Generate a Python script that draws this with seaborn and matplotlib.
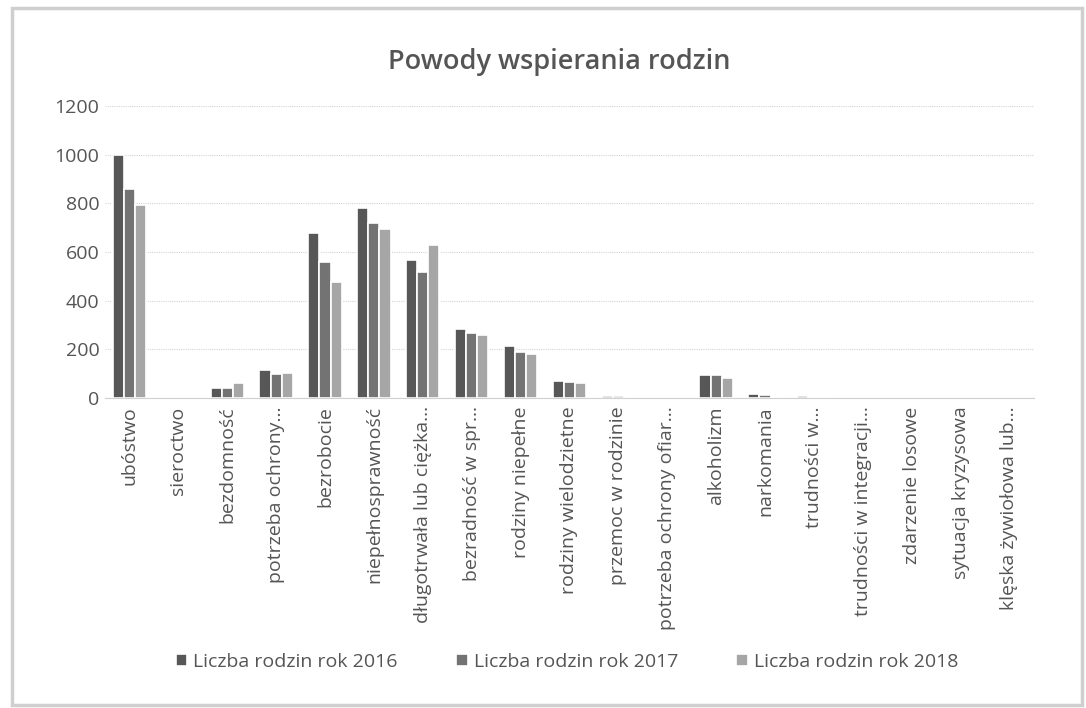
import matplotlib
matplotlib.use("Agg")
import matplotlib.pyplot as plt
from matplotlib.patches import Rectangle
import pandas as pd
import seaborn as sns

categories = [
    "ubóstwo", "sieroctwo", "bezdomność", "potrzeba ochrony...",
    "bezrobocie", "niepełnosprawność", "długotrwała lub ciężka...",
    "bezradność w spr...", "rodziny niepełne", "rodziny wielodzietne",
    "przemoc w rodzinie", "potrzeba ochrony ofiar...", "alkoholizm",
    "narkomania", "trudności w...", "trudności w integracji...",
    "zdarzenie losowe", "sytuacja kryzysowa", "klęska żywiołowa lub...",
]
years = ["Liczba rodzin rok 2016", "Liczba rodzin rok 2017", "Liczba rodzin rok 2018"]
vals_2016 = [1000, 0, 42, 113, 679, 779, 566, 285, 214, 70, 8, 1, 95, 18, 10, 0, 0, 0, 0]
vals_2017 = [858, 0, 42, 98, 557, 721, 516, 266, 190, 65, 7, 1, 95, 11, 6, 0, 0, 0, 0]
vals_2018 = [795, 0, 62, 102, 475, 694, 628, 258, 180, 62, 5, 0, 83, 4, 4, 0, 0, 0, 0]
colors = ["#575757", "#737373", "#a6a6a6"]

df = pd.DataFrame({
    "kategoria": categories * 3,
    "rok": [years[0]] * len(categories) + [years[1]] * len(categories) + [years[2]] * len(categories),
    "liczba": vals_2016 + vals_2017 + vals_2018,
})

sns.set_style("white")
plt.rcParams["font.family"] = ["Open Sans", "DejaVu Sans"]

fig = plt.figure(figsize=(10.86, 7.08), dpi=100)
ax = fig.add_axes([0.0967, 0.4379, 0.8553, 0.4124])

sns.barplot(
    data=df, x="kategoria", y="liczba", hue="rok",
    palette=colors, width=0.68, edgecolor="white", linewidth=1.2,
    ax=ax,
)

ax.set_ylim(0, 1200)
ax.set_yticks(range(0, 1201, 200))
ax.set_xlim(-0.5, len(categories) - 0.5)
ax.grid(axis="y", color="#d4d4d4", linewidth=0.8, linestyle=(0, (1, 1)))
ax.set_axisbelow(True)
for side in ["left", "right", "top"]:
    ax.spines[side].set_visible(False)
ax.spines["bottom"].set_color("#d0d0d0")
ax.tick_params(axis="both", length=0, colors="#555555")
ax.tick_params(axis="y", labelsize=14, pad=4)
ax.tick_params(axis="x", pad=6)
ax.set_xticks(range(len(categories)))
ax.set_xticklabels(categories, rotation=90, fontsize=14, color="#555555")
ax.set_xlabel("")
ax.set_ylabel("")

fig.text(0.515, 0.913, "Powody wspierania rodzin", ha="center", va="center",
         fontsize=19.5, color="#555555", fontweight="semibold")

handles, labels = ax.get_legend_handles_labels()
ax.legend_.remove()
fig.legend(handles, labels, loc="center", bbox_to_anchor=(0.522, 0.065),
           ncol=3, frameon=False, fontsize=14, labelcolor="#555555",
           handlelength=0.6, handleheight=0.6, handletextpad=0.3,
           columnspacing=3.0)

fig.patches.append(Rectangle((0.011, 0.004), 0.985, 0.984, transform=fig.transFigure,
                             fill=False, edgecolor="#cfcfcf", linewidth=2.5))

fig.savefig("out.png", dpi=100)
